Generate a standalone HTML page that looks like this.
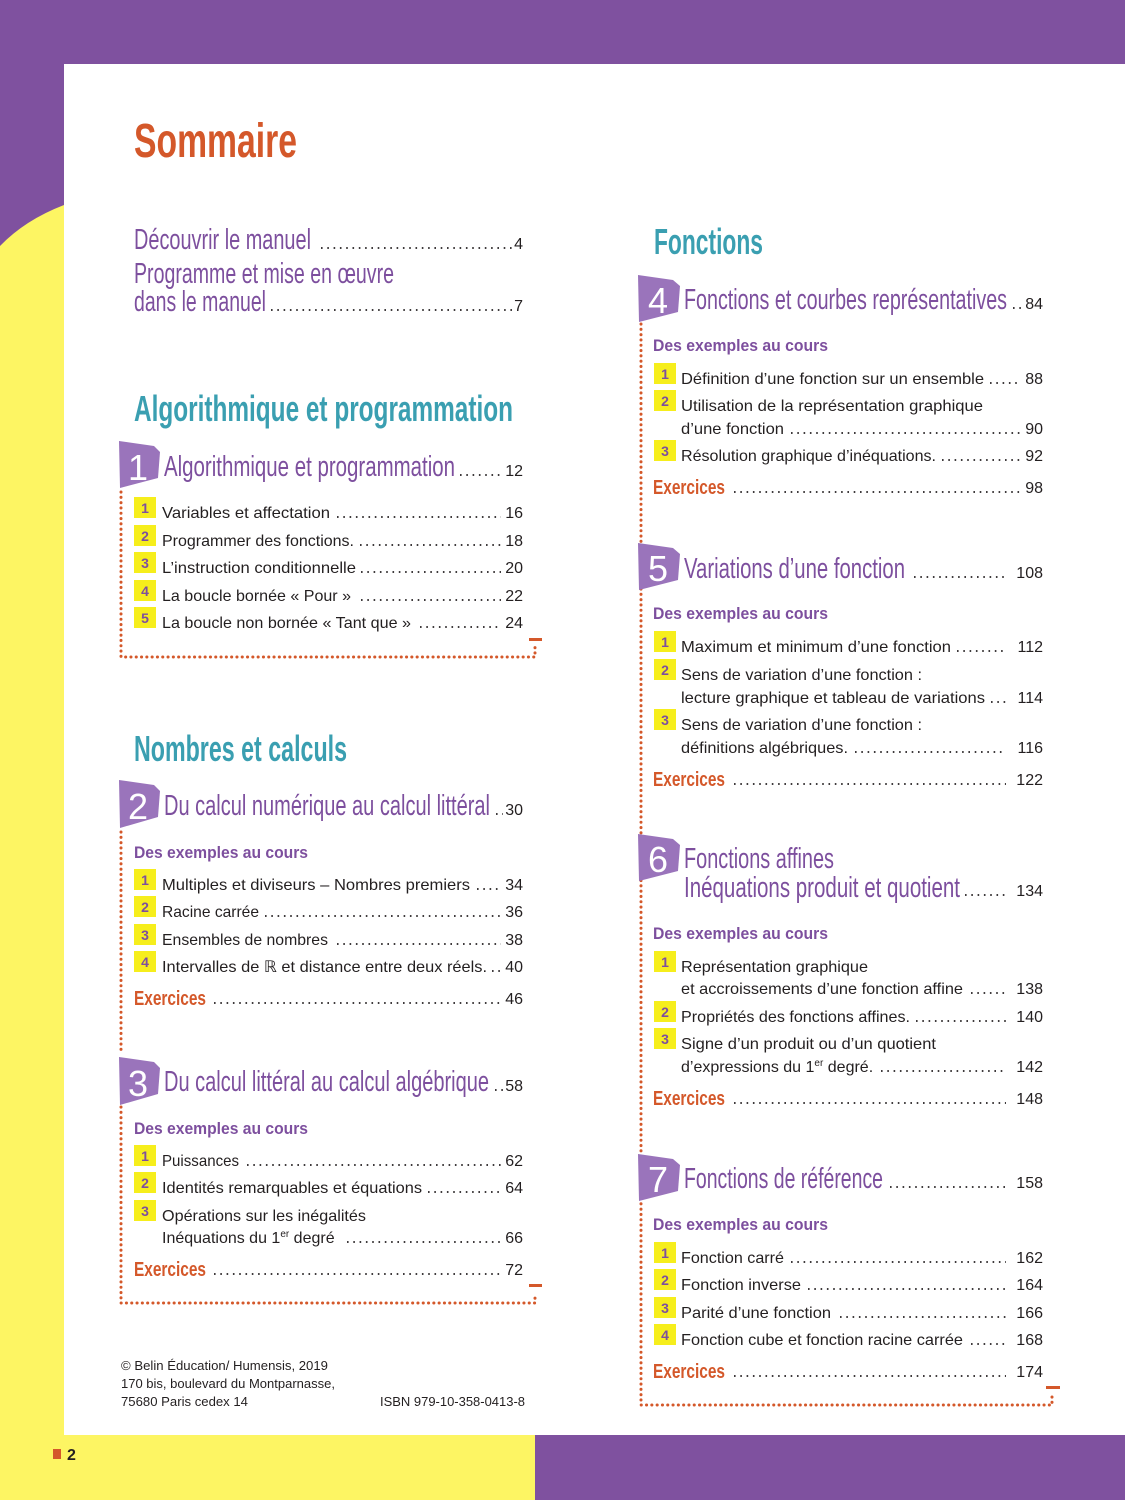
<!DOCTYPE html>
<html><head><meta charset="utf-8"><style>
html,body{margin:0;padding:0;background:#fdf563}
svg{display:block}
.b{font-family:"Liberation Sans",sans-serif;font-size:16px;fill:#231f20}
.t{font-family:"Liberation Sans Narrow","Liberation Sans",sans-serif;fill:#7d4f9e;font-size:29px}
.h{font-family:"Liberation Sans Narrow","Liberation Sans",sans-serif;fill:#3a9fb1;font-size:36px;font-weight:bold}
.s{font-family:"Liberation Sans",sans-serif;fill:#7d4f9e;font-size:17px;font-weight:bold}
.e{font-family:"Liberation Sans Narrow","Liberation Sans",sans-serif;fill:#d4582a;font-size:20px;font-weight:bold}
.p{font-family:"Liberation Sans",sans-serif;font-size:16px;fill:#231f20;text-anchor:end}
.ld{stroke:#231f20;stroke-width:1.7;stroke-dasharray:1.6 4.7}
.yb{fill:#f6ee1c}
.bn{font-family:"Liberation Sans",sans-serif;font-size:14px;font-weight:bold;fill:#7d4f9e;text-anchor:middle}
.cb{fill:#9a74bb}
.cn{font-family:"Liberation Sans Narrow","Liberation Sans",sans-serif;font-size:36px;fill:#fff;text-anchor:middle}
.fr{fill:none;stroke:#d4582a;stroke-width:3;stroke-linecap:round;stroke-dasharray:0.1 5.2}
.f{font-family:"Liberation Sans Narrow","Liberation Sans",sans-serif;font-size:13px;fill:#231f20}
</style></head><body>
<svg width="1125" height="1500" viewBox="0 0 1125 1500" xmlns="http://www.w3.org/2000/svg">
<rect width="1125" height="1500" fill="#fdf563"/>
<path d="M0,0H1125V64H64V205Q25,220 0,246Z" fill="#7f519f"/>
<rect x="64" y="64" width="1061" height="1371" fill="#fff"/>
<rect x="535" y="1435" width="590" height="65" fill="#7f519f"/>
<rect x="53" y="1449" width="8" height="10" fill="#d4582a"/>
<text x="67" y="1460" style="font-family:'Liberation Sans',sans-serif;font-size:16px;font-weight:bold;fill:#231f20">2</text>

<text x="134" y="157" textLength="163" lengthAdjust="spacingAndGlyphs" style="font-family:'Liberation Sans Narrow','Liberation Sans',sans-serif;font-size:48px;font-weight:bold;fill:#d4582a">Sommaire</text>

<text class="t" x="134" y="249" textLength="177" lengthAdjust="spacingAndGlyphs">Découvrir le manuel</text>
<line class="ld" x1="321" x2="512" y1="248" y2="248"/><text class="p" x="523" y="249">4</text>
<text class="t" x="134" y="283" textLength="260" lengthAdjust="spacingAndGlyphs">Programme et mise en œuvre</text>
<text class="t" x="134" y="311" textLength="132" lengthAdjust="spacingAndGlyphs">dans le manuel</text>
<line class="ld" x1="271" x2="512" y1="310" y2="310"/><text class="p" x="523" y="311">7</text>

<text class="h" x="134" y="421" textLength="379" lengthAdjust="spacingAndGlyphs">Algorithmique et programmation</text>
<!-- ch1 -->
<polygon class="cb" points="119,441 154,446 160,452 158,478 120,488"/>
<text class="cn" x="138" y="480">1</text>
<text class="t" x="164" y="476" textLength="291" lengthAdjust="spacingAndGlyphs">Algorithmique et programmation</text>
<line class="ld" x1="460" x2="501" y1="475" y2="475"/><text class="p" x="523" y="476">12</text>

<rect class="yb" x="134" y="497" width="22" height="21"/><text class="bn" x="145" y="513">1</text>
<text class="b" x="162" y="518" textLength="168" lengthAdjust="spacingAndGlyphs">Variables et affectation</text>
<line class="ld" x1="337" x2="501" y1="517" y2="517"/><text class="p" x="523" y="518">16</text>
<rect class="yb" x="134" y="525" width="22" height="21"/><text class="bn" x="145" y="541">2</text>
<text class="b" x="162" y="546" textLength="192" lengthAdjust="spacingAndGlyphs">Programmer des fonctions.</text>
<line class="ld" x1="360" x2="501" y1="545" y2="545"/><text class="p" x="523" y="546">18</text>
<rect class="yb" x="134" y="552" width="22" height="21"/><text class="bn" x="145" y="568">3</text>
<text class="b" x="162" y="573" textLength="194" lengthAdjust="spacingAndGlyphs">L’instruction conditionnelle</text>
<line class="ld" x1="361" x2="501" y1="572" y2="572"/><text class="p" x="523" y="573">20</text>
<rect class="yb" x="134" y="580" width="22" height="21"/><text class="bn" x="145" y="596">4</text>
<text class="b" x="162" y="601" textLength="189" lengthAdjust="spacingAndGlyphs">La boucle bornée « Pour »</text>
<line class="ld" x1="361" x2="501" y1="600" y2="600"/><text class="p" x="523" y="601">22</text>
<rect class="yb" x="134" y="607" width="22" height="21"/><text class="bn" x="145" y="623">5</text>
<text class="b" x="162" y="628" textLength="249" lengthAdjust="spacingAndGlyphs">La boucle non bornée « Tant que »</text>
<line class="ld" x1="420" x2="501" y1="627" y2="627"/><text class="p" x="523" y="628">24</text>
<path class="fr" d="M121,492V657H535V647"/>
<rect x="529" y="638" width="13" height="3" fill="#d4582a"/>

<text class="h" x="134" y="761" textLength="213" lengthAdjust="spacingAndGlyphs">Nombres et calculs</text>
<!-- ch2 -->
<polygon class="cb" points="119,780 154,785 160,791 158,817 120,828"/>
<text class="cn" x="138" y="819">2</text>
<text class="t" x="164" y="815" textLength="326" lengthAdjust="spacingAndGlyphs">Du calcul numérique au calcul littéral</text>
<line class="ld" x1="496" x2="503" y1="814" y2="814"/><text class="p" x="523" y="815">30</text>
<text class="s" x="134" y="858" textLength="174" lengthAdjust="spacingAndGlyphs">Des exemples au cours</text>
<rect class="yb" x="134" y="869" width="22" height="21"/><text class="bn" x="145" y="885">1</text>
<text class="b" x="162" y="890" textLength="308" lengthAdjust="spacingAndGlyphs">Multiples et diviseurs – Nombres premiers</text>
<line class="ld" x1="477" x2="501" y1="889" y2="889"/><text class="p" x="523" y="890">34</text>
<rect class="yb" x="134" y="896" width="22" height="21"/><text class="bn" x="145" y="912">2</text>
<text class="b" x="162" y="917" textLength="97" lengthAdjust="spacingAndGlyphs">Racine carrée</text>
<line class="ld" x1="265" x2="501" y1="916" y2="916"/><text class="p" x="523" y="917">36</text>
<rect class="yb" x="134" y="924" width="22" height="21"/><text class="bn" x="145" y="940">3</text>
<text class="b" x="162" y="945" textLength="166" lengthAdjust="spacingAndGlyphs">Ensembles de nombres</text>
<line class="ld" x1="337" x2="501" y1="944" y2="944"/><text class="p" x="523" y="945">38</text>
<rect class="yb" x="134" y="951" width="22" height="21"/><text class="bn" x="145" y="967">4</text>
<text class="b" x="162" y="972" textLength="325" lengthAdjust="spacingAndGlyphs">Intervalles de ℝ et distance entre deux réels.</text>
<line class="ld" x1="492" x2="501" y1="971" y2="971"/><text class="p" x="523" y="972">40</text>
<text class="e" x="134" y="1005" textLength="72" lengthAdjust="spacingAndGlyphs">Exercices</text>
<line class="ld" x1="214" x2="501" y1="1003" y2="1003"/><text class="p" x="523" y="1004">46</text>
<path class="fr" d="M121,832V1052"/>

<!-- ch3 -->
<polygon class="cb" points="119,1057 154,1062 160,1068 158,1094 120,1105"/>
<text class="cn" x="138" y="1096">3</text>
<text class="t" x="164" y="1091" textLength="325" lengthAdjust="spacingAndGlyphs">Du calcul littéral au calcul algébrique</text>
<line class="ld" x1="495" x2="503" y1="1090" y2="1090"/><text class="p" x="523" y="1091">58</text>
<text class="s" x="134" y="1134" textLength="174" lengthAdjust="spacingAndGlyphs">Des exemples au cours</text>
<rect class="yb" x="134" y="1145" width="22" height="21"/><text class="bn" x="145" y="1161">1</text>
<text class="b" x="162" y="1166" textLength="77" lengthAdjust="spacingAndGlyphs">Puissances</text>
<line class="ld" x1="247" x2="501" y1="1165" y2="1165"/><text class="p" x="523" y="1166">62</text>
<rect class="yb" x="134" y="1172" width="22" height="21"/><text class="bn" x="145" y="1188">2</text>
<text class="b" x="162" y="1193" textLength="260" lengthAdjust="spacingAndGlyphs">Identités remarquables et équations</text>
<line class="ld" x1="428" x2="501" y1="1192" y2="1192"/><text class="p" x="523" y="1193">64</text>
<rect class="yb" x="134" y="1200" width="22" height="21"/><text class="bn" x="145" y="1216">3</text>
<text class="b" x="162" y="1221" textLength="204" lengthAdjust="spacingAndGlyphs">Opérations sur les inégalités</text>
<text class="b" x="162" y="1243">Inéquations du 1<tspan dy="-6" font-size="10">er</tspan><tspan dy="6"> degré</tspan></text>
<line class="ld" x1="347" x2="501" y1="1242" y2="1242"/><text class="p" x="523" y="1243">66</text>
<text class="e" x="134" y="1276" textLength="72" lengthAdjust="spacingAndGlyphs">Exercices</text>
<line class="ld" x1="214" x2="501" y1="1274" y2="1274"/><text class="p" x="523" y="1275">72</text>
<path class="fr" d="M121,1107V1303H535V1293"/>
<rect x="529" y="1284" width="13" height="3" fill="#d4582a"/>

<text class="f" x="121" y="1370" textLength="207" lengthAdjust="spacingAndGlyphs">© Belin Éducation/ Humensis, 2019</text>
<text class="f" x="121" y="1388" textLength="214" lengthAdjust="spacingAndGlyphs">170 bis, boulevard du Montparnasse,</text>
<text class="f" x="121" y="1406" textLength="127" lengthAdjust="spacingAndGlyphs">75680 Paris cedex 14</text>
<text class="f" x="380" y="1406" textLength="145" lengthAdjust="spacingAndGlyphs">ISBN 979-10-358-0413-8</text>

<!-- RIGHT -->
<text class="h" x="654" y="254" textLength="109" lengthAdjust="spacingAndGlyphs">Fonctions</text>
<path class="fr" d="M641,324V1405H1052V1393"/>
<rect x="1046" y="1386" width="14" height="3" fill="#d4582a"/>

<polygon class="cb" points="638,275 673,280 680,286 678,312 639,322"/>
<text class="cn" x="658" y="313">4</text>
<text class="t" x="684" y="309" textLength="323" lengthAdjust="spacingAndGlyphs">Fonctions et courbes représentatives</text>
<line class="ld" x1="1013" x2="1022" y1="308" y2="308"/><text class="p" x="1043" y="309">84</text>
<text class="s" x="653" y="351" textLength="175" lengthAdjust="spacingAndGlyphs">Des exemples au cours</text>
<rect class="yb" x="654" y="363" width="22" height="21"/><text class="bn" x="665" y="379">1</text>
<text class="b" x="681" y="384" textLength="303" lengthAdjust="spacingAndGlyphs">Définition d’une fonction sur un ensemble</text>
<line class="ld" x1="990" x2="1021" y1="383" y2="383"/><text class="p" x="1043" y="384">88</text>
<rect class="yb" x="654" y="390" width="22" height="21"/><text class="bn" x="665" y="406">2</text>
<text class="b" x="681" y="411" textLength="302" lengthAdjust="spacingAndGlyphs">Utilisation de la représentation graphique</text>
<text class="b" x="681" y="434" textLength="103" lengthAdjust="spacingAndGlyphs">d’une fonction</text>
<line class="ld" x1="791" x2="1021" y1="433" y2="433"/><text class="p" x="1043" y="434">90</text>
<rect class="yb" x="654" y="440" width="22" height="21"/><text class="bn" x="665" y="456">3</text>
<text class="b" x="681" y="461" textLength="255" lengthAdjust="spacingAndGlyphs">Résolution graphique d’inéquations.</text>
<line class="ld" x1="942" x2="1021" y1="460" y2="460"/><text class="p" x="1043" y="461">92</text>
<text class="e" x="653" y="494" textLength="72" lengthAdjust="spacingAndGlyphs">Exercices</text>
<line class="ld" x1="734" x2="1021" y1="492" y2="492"/><text class="p" x="1043" y="493">98</text>

<polygon class="cb" points="638,543 673,548 680,554 678,580 639,590"/>
<text class="cn" x="658" y="581">5</text>
<text class="t" x="684" y="578" textLength="221" lengthAdjust="spacingAndGlyphs">Variations d’une fonction</text>
<line class="ld" x1="914" x2="1006" y1="577" y2="577"/><text class="p" x="1043" y="578">108</text>
<text class="s" x="653" y="619" textLength="175" lengthAdjust="spacingAndGlyphs">Des exemples au cours</text>
<rect class="yb" x="654" y="631" width="22" height="21"/><text class="bn" x="665" y="647">1</text>
<text class="b" x="681" y="652" textLength="270" lengthAdjust="spacingAndGlyphs">Maximum et minimum d’une fonction</text>
<line class="ld" x1="957" x2="1006" y1="651" y2="651"/><text class="p" x="1043" y="652">112</text>
<rect class="yb" x="654" y="659" width="22" height="21"/><text class="bn" x="665" y="675">2</text>
<text class="b" x="681" y="680" textLength="241" lengthAdjust="spacingAndGlyphs">Sens de variation d’une fonction :</text>
<text class="b" x="681" y="703" textLength="304" lengthAdjust="spacingAndGlyphs">lecture graphique et tableau de variations</text>
<line class="ld" x1="991" x2="1006" y1="702" y2="702"/><text class="p" x="1043" y="703">114</text>
<rect class="yb" x="654" y="709" width="22" height="21"/><text class="bn" x="665" y="725">3</text>
<text class="b" x="681" y="730" textLength="241" lengthAdjust="spacingAndGlyphs">Sens de variation d’une fonction :</text>
<text class="b" x="681" y="753" textLength="167" lengthAdjust="spacingAndGlyphs">définitions algébriques.</text>
<line class="ld" x1="855" x2="1006" y1="752" y2="752"/><text class="p" x="1043" y="753">116</text>
<text class="e" x="653" y="786" textLength="72" lengthAdjust="spacingAndGlyphs">Exercices</text>
<line class="ld" x1="734" x2="1006" y1="784" y2="784"/><text class="p" x="1043" y="785">122</text>

<polygon class="cb" points="638,834 673,839 680,845 678,871 639,881"/>
<text class="cn" x="658" y="872">6</text>
<text class="t" x="684" y="868" textLength="150" lengthAdjust="spacingAndGlyphs">Fonctions affines</text>
<text class="t" x="684" y="897" textLength="276" lengthAdjust="spacingAndGlyphs">Inéquations produit et quotient</text>
<line class="ld" x1="965" x2="1006" y1="895" y2="895"/><text class="p" x="1043" y="896">134</text>
<text class="s" x="653" y="939" textLength="175" lengthAdjust="spacingAndGlyphs">Des exemples au cours</text>
<rect class="yb" x="654" y="951" width="22" height="21"/><text class="bn" x="665" y="967">1</text>
<text class="b" x="681" y="972" textLength="187" lengthAdjust="spacingAndGlyphs">Représentation graphique</text>
<text class="b" x="681" y="994" textLength="282" lengthAdjust="spacingAndGlyphs">et accroissements d’une fonction affine</text>
<line class="ld" x1="971" x2="1006" y1="993" y2="993"/><text class="p" x="1043" y="994">138</text>
<rect class="yb" x="654" y="1001" width="22" height="21"/><text class="bn" x="665" y="1017">2</text>
<text class="b" x="681" y="1022" textLength="229" lengthAdjust="spacingAndGlyphs">Propriétés des fonctions affines.</text>
<line class="ld" x1="916" x2="1006" y1="1021" y2="1021"/><text class="p" x="1043" y="1022">140</text>
<rect class="yb" x="654" y="1028" width="22" height="21"/><text class="bn" x="665" y="1044">3</text>
<text class="b" x="681" y="1049" textLength="255" lengthAdjust="spacingAndGlyphs">Signe d’un produit ou d’un quotient</text>
<text class="b" x="681" y="1072">d’expressions du 1<tspan dy="-6" font-size="10">er</tspan><tspan dy="6"> degré.</tspan></text>
<line class="ld" x1="881" x2="1006" y1="1071" y2="1071"/><text class="p" x="1043" y="1072">142</text>
<text class="e" x="653" y="1105" textLength="72" lengthAdjust="spacingAndGlyphs">Exercices</text>
<line class="ld" x1="734" x2="1006" y1="1103" y2="1103"/><text class="p" x="1043" y="1104">148</text>

<polygon class="cb" points="638,1154 673,1159 680,1165 678,1191 639,1201"/>
<text class="cn" x="658" y="1192">7</text>
<text class="t" x="684" y="1188" textLength="199" lengthAdjust="spacingAndGlyphs">Fonctions de référence</text>
<line class="ld" x1="890" x2="1006" y1="1187" y2="1187"/><text class="p" x="1043" y="1188">158</text>
<text class="s" x="653" y="1230" textLength="175" lengthAdjust="spacingAndGlyphs">Des exemples au cours</text>
<rect class="yb" x="654" y="1242" width="22" height="21"/><text class="bn" x="665" y="1258">1</text>
<text class="b" x="681" y="1263" textLength="103" lengthAdjust="spacingAndGlyphs">Fonction carré</text>
<line class="ld" x1="791" x2="1006" y1="1262" y2="1262"/><text class="p" x="1043" y="1263">162</text>
<rect class="yb" x="654" y="1269" width="22" height="21"/><text class="bn" x="665" y="1285">2</text>
<text class="b" x="681" y="1290" textLength="120" lengthAdjust="spacingAndGlyphs">Fonction inverse</text>
<line class="ld" x1="808" x2="1006" y1="1289" y2="1289"/><text class="p" x="1043" y="1290">164</text>
<rect class="yb" x="654" y="1297" width="22" height="21"/><text class="bn" x="665" y="1313">3</text>
<text class="b" x="681" y="1318" textLength="150" lengthAdjust="spacingAndGlyphs">Parité d’une fonction</text>
<line class="ld" x1="840" x2="1006" y1="1317" y2="1317"/><text class="p" x="1043" y="1318">166</text>
<rect class="yb" x="654" y="1324" width="22" height="21"/><text class="bn" x="665" y="1340">4</text>
<text class="b" x="681" y="1345" textLength="282" lengthAdjust="spacingAndGlyphs">Fonction cube et fonction racine carrée</text>
<line class="ld" x1="971" x2="1006" y1="1344" y2="1344"/><text class="p" x="1043" y="1345">168</text>
<text class="e" x="653" y="1378" textLength="72" lengthAdjust="spacingAndGlyphs">Exercices</text>
<line class="ld" x1="734" x2="1006" y1="1376" y2="1376"/><text class="p" x="1043" y="1377">174</text>
</svg>
</body></html>
